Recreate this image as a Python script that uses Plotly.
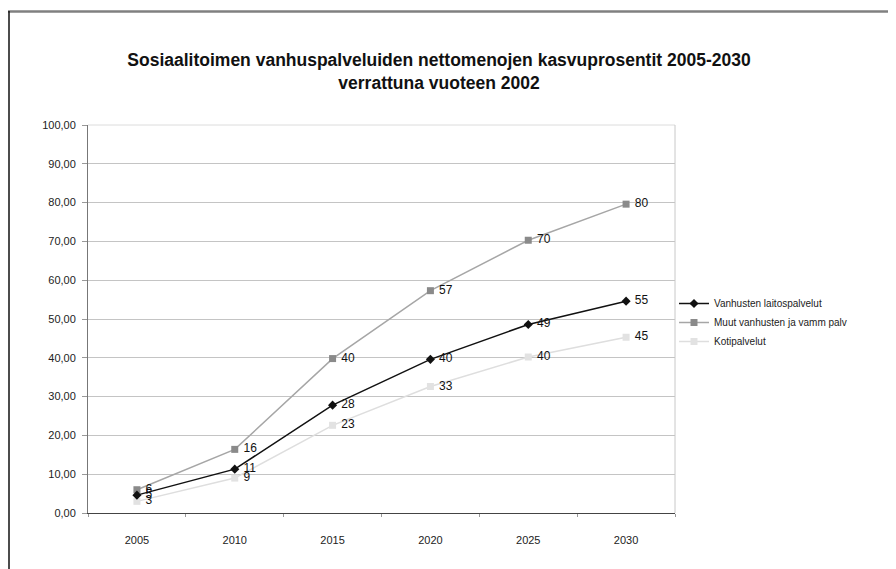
import plotly.graph_objects as go

years = ["2005", "2010", "2015", "2020", "2025", "2030"]
laitos = [4.6, 11.3, 27.8, 39.6, 48.6, 54.6]
laitos_lbl = ["5", "11", "28", "40", "49", "55"]
muut = [6.0, 16.4, 39.8, 57.3, 70.3, 79.6]
muut_lbl = ["6", "16", "40", "57", "70", "80"]
koti = [3.0, 9.0, 22.6, 32.6, 40.2, 45.3]
koti_lbl = ["3", "9", "23", "33", "40", "45"]
names = ["Vanhusten laitospalvelut", "Muut vanhusten ja vamm palv", "Kotipalvelut"]
title_lines = ["Sosiaalitoimen vanhuspalveluiden nettomenojen kasvuprosentit 2005-2030",
               "verrattuna vuoteen 2002"]

FONT = "Liberation Sans, Arial, sans-serif"

def series(x, y, lbl, name, line, marker, rank):
    return go.Scatter(
        x=x, y=y, name=name, mode="lines+markers+text",
        text=lbl, texttemplate=" %{text}", textposition="middle right",
        textfont=dict(size=12, color="#111", family=FONT),
        line=line, marker=marker, legendrank=rank)

fig = go.Figure()
fig.add_trace(series(years, koti, koti_lbl, names[2],
                     dict(color="#dedede", width=1.5),
                     dict(symbol="square", size=7, color="#e2e2e2"), 3))
fig.add_trace(series(years, muut, muut_lbl, names[1],
                     dict(color="#a6a6a6", width=1.5),
                     dict(symbol="square", size=7, color="#8a8a8a"), 2))
fig.add_trace(series(years, laitos, laitos_lbl, names[0],
                     dict(color="#111111", width=1.5),
                     dict(symbol="diamond", size=7, color="#111111"), 1))

# page body has an 8px margin, so figure coords = screen coords - 8
W, H = 896, 569
L, R, T, B = 80, 667, 117, 505
def px(xp):
    return (xp - L) / (R - L)
def py(yp):
    return (B - yp) / (B - T)

fig.update_layout(
    width=W, height=H,
    margin=dict(l=L, r=W - R, t=T, b=H - B),
    paper_bgcolor="white", plot_bgcolor="white",
    separators=", ",
    font=dict(family=FONT, color="#222", size=10),
    title=dict(text="<b>" + title_lines[0] + "<br>" + title_lines[1] + "</b>",
               xref="container", x=431 / W, xanchor="center",
               yref="container", y=1 - 58 / H, yanchor="middle",
               font=dict(size=17.5, color="#111", family=FONT)),
    showlegend=True,
    legend=dict(x=px(666), y=py(281), xanchor="left", yanchor="top",
                font=dict(size=10, color="#222", family=FONT),
                itemwidth=30, tracegroupgap=2, bgcolor="rgba(0,0,0,0)"),
    xaxis=dict(type="category", range=[-0.5, 5.5], showgrid=False, showline=True,
               linecolor="#444", linewidth=1, ticks="outside", tickson="boundaries",
               ticklen=3, tickcolor="#999", tickfont=dict(size=11, color="#222"),
               ticklabelstandoff=17, fixedrange=True),
    yaxis=dict(range=[0, 100], dtick=10, tickformat=".2f", showgrid=True,
               gridcolor="#c4c4c4", gridwidth=1, showline=True, linecolor="#777",
               linewidth=1, ticks="outside", ticklen=5, tickcolor="#999",
               tickfont=dict(size=11, color="#222"), ticklabelstandoff=4,
               zeroline=False),
    shapes=[
        dict(type="line", xref="paper", yref="paper", x0=0, x1=1, y0=1, y1=1,
             line=dict(color="#dcdcdc", width=1)),
        dict(type="line", xref="paper", yref="paper", x0=1, x1=1, y0=0, y1=1,
             line=dict(color="#c8c8c8", width=1)),
        dict(type="line", xref="paper", yref="paper", x0=px(0), x1=px(896), y0=py(3.5), y1=py(3.5),
             line=dict(color="#808080", width=2.5)),
        dict(type="line", xref="paper", yref="paper", x0=px(1), x1=px(1), y0=py(3), y1=py(569),
             line=dict(color="#111", width=1.5)),
    ],
)

fig.write_html("out.html")
